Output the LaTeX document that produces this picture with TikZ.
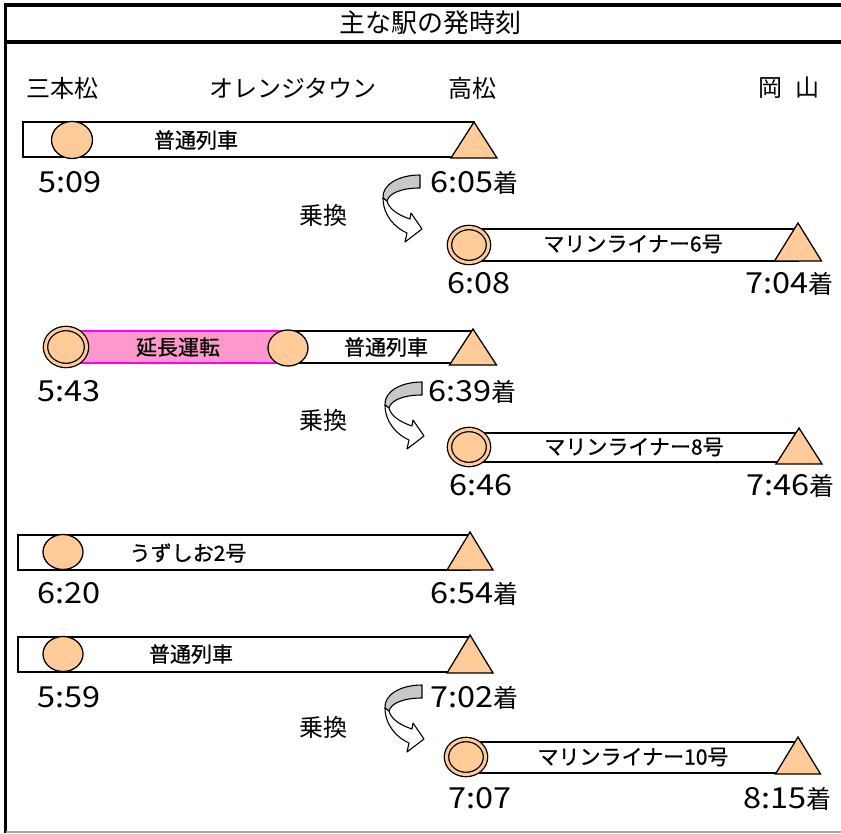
\documentclass[tikz,border=0pt]{standalone}
\usepackage{fontspec}
\setmainfont{Noto Sans CJK JP}
\newfontfamily\jpfont{Noto Sans CJK JP}
\newfontfamily\barfont[FakeBold=0.8]{Noto Sans CJK JP}
\newfontfamily\numfont[FakeStretch=1.12]{Noto Sans CJK JP}
\usetikzlibrary{shapes.geometric}
\definecolor{peach}{HTML}{FFCC99}
\definecolor{pinkfill}{HTML}{FF99CC}
\definecolor{magentaline}{HTML}{FF00FF}
\definecolor{arrowgray}{HTML}{C8C8C8}
\newcommand{\chaku}{{\jpfont\fontsize{25}{29}\selectfont 着}}
\tikzset{
  frameline/.style={line width=3.5pt},
  barbox/.style={draw=black, line width=2.6pt, fill=white},
  tri/.style={draw=black, line width=1.3pt, fill=peach, line join=miter},
  stopnode/.style={ellipse, draw=black, line width=1.3pt, fill=peach, minimum width=40pt, minimum height=35pt, inner sep=0pt},
  dblstop/.style={ellipse, draw=black, line width=1.3pt, double=peach, double distance=3pt, fill=peach, minimum width=39pt, minimum height=35pt, inner sep=0pt},
  titletxt/.style={font=\fontsize{26}{30}\selectfont, inner sep=0pt},
  stationtxt/.style={font=\fontsize{24}{28}\selectfont, inner sep=0pt},
  bartxt/.style={font=\barfont\fontsize{21}{25}\selectfont, inner sep=0pt},
  timetxt/.style={font=\numfont\fontsize{29}{33}\selectfont, inner sep=0pt, anchor=base west},
  transfer/.pic={
    \draw[line width=1.1pt, fill=arrowgray, line join=round]
      (0,0) .. controls (-22,0) and (-38,10) .. (-37,23) -- (-33,26)
      .. controls (-31,18) and (-18,13) .. (0,13) -- cycle;
    \draw[line width=1.1pt, fill=white, line join=round]
      (-37,23) .. controls (-37,40) and (-25,53) .. (-13,58) -- (-15,67) -- (2,54)
      -- (-9,38) -- (-10,44) .. controls (-22,40) and (-31,34) .. (-33,26) -- cycle;
  }
}
\begin{document}
\begin{tikzpicture}[x=1pt,y=-1pt]
\useasboundingbox (0,0) rectangle (841,833);
% frame
\draw[frameline] (4,5) -- (841,5);
\draw[frameline] (5.7,3.3) -- (5.7,833);
\draw[frameline] (4,42) -- (841,42);
\draw[gray!70, line width=1.2pt] (5.7,832) -- (841,832);
\node[titletxt] (title) at (430,23) {主な駅の発時刻};
% stations
\node[stationtxt] (st1) at (63,88) {三本松};
\node[stationtxt] (st2) at (293,88) {オレンジタウン};
\node[stationtxt] (st3) at (472,88) {高松};
\node[stationtxt] (st4) at (789,88) {岡\hspace{0.55em}山};

% ---- row 1
\draw[barbox] (23,122) rectangle (474,157);
\draw[tri] (474,122) -- ++(23,36) -- ++(-46,0) -- cycle;
\node[stopnode, minimum width=41pt, minimum height=37pt] (r1s) at (72,140) {};
\node[bartxt] (r1t) at (196,140) {普通列車};
\node[timetxt] (r1d) at (38,192) {5:09};
\node[timetxt] (r1a) at (430,192) {6:05\chaku};
\pic (r1x) at (420,175) {transfer};
\node[stationtxt] (r1n) at (323,215) {乗換};
% ---- row 1b
\draw[barbox] (469,229) rectangle (798,261);
\draw[tri] (798,223) -- ++(23.5,38) -- ++(-47,0) -- cycle;
\node[dblstop] (r1bs) at (469,245) {};
\node[bartxt] (r1bt) at (633,244) {マリンライナー6号};
\node[timetxt] (r1bd) at (447,293) {6:08};
\node[timetxt] (r1ba) at (745,293) {7:04\chaku};

% ---- row 2
\draw[barbox] (288,331) rectangle (473,363);
\fill[pinkfill] (66,331) rectangle (288,363);
\draw[magentaline, line width=2.2pt] (66,331) -- (288,331) (66,363) -- (288,363);
\draw[tri] (473,329) -- ++(23.5,36) -- ++(-47,0) -- cycle;
\node[dblstop, minimum width=41pt, minimum height=37pt] (r2s) at (66,347) {};
\node[stopnode, minimum height=36pt] (r2m) at (288,348) {};
\node[bartxt] (r2t1) at (178,347) {延長運転};
\node[bartxt] (r2t2) at (386,347) {普通列車};
\node[timetxt] (r2d) at (37,401) {5:43};
\node[timetxt] (r2a) at (428,401) {6:39\chaku};
\pic (r2x) at (422,382) {transfer};
\node[stationtxt] (r2n) at (323,420) {乗換};
% ---- row 2b
\draw[barbox] (469,433) rectangle (799,462);
\draw[tri] (799,428) -- ++(23,36) -- ++(-46,0) -- cycle;
\node[dblstop] (r2bs) at (469,447) {};
\node[bartxt] (r2bt) at (634,447) {マリンライナー8号};
\node[timetxt] (r2bd) at (449,495) {6:46};
\node[timetxt] (r2ba) at (746,495) {7:46\chaku};

% ---- row 3
\draw[barbox] (18,535) rectangle (470,570);
\draw[tri] (470,532) -- ++(23,38) -- ++(-46,0) -- cycle;
\node[stopnode] (r3s) at (63,552) {};
\node[bartxt] (r3t) at (188,553) {うずしお2号};
\node[timetxt] (r3d) at (37,603) {6:20};
\node[timetxt] (r3a) at (430,603) {6:54\chaku};

% ---- row 4
\draw[barbox] (18,637) rectangle (470,672);
\draw[tri] (470,635) -- ++(23,38) -- ++(-46,0) -- cycle;
\node[stopnode] (r4s) at (63,654) {};
\node[bartxt] (r4t) at (191,654) {普通列車};
\node[timetxt] (r4d) at (37,707) {5:59};
\node[timetxt] (r4a) at (430,707) {7:02\chaku};
\pic (r4x) at (422,685) {transfer};
\node[stationtxt] (r4n) at (323,727) {乗換};
% ---- row 4b
\draw[barbox] (467,742) rectangle (798,773);
\draw[tri] (798,737) -- ++(22.5,37) -- ++(-45,0) -- cycle;
\node[dblstop] (r4bs) at (466,757) {};
\node[bartxt] (r4bt) at (633,757) {マリンライナー10号};
\node[timetxt] (r4bd) at (448,808) {7:07};
\node[timetxt] (r4ba) at (743,808) {8:15\chaku};
\end{tikzpicture}
\end{document}
